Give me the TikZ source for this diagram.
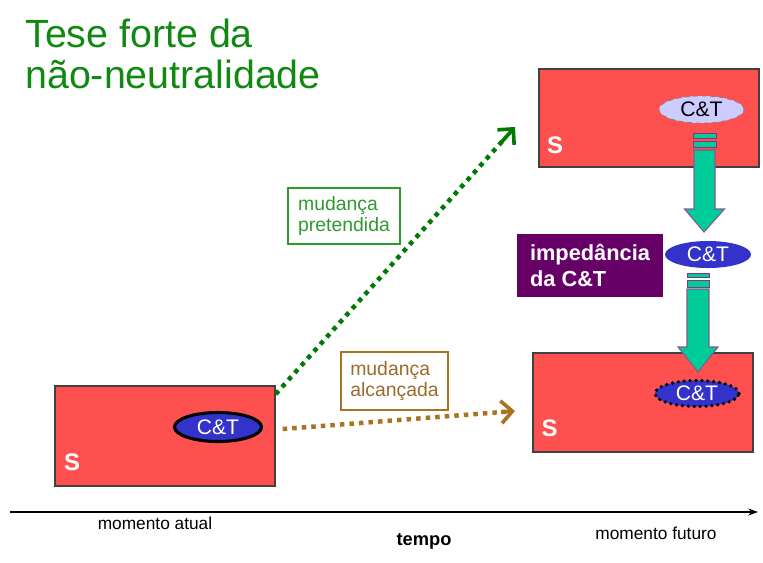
\documentclass[tikz,border=0pt]{standalone}
\usepackage{fontspec}
\setmainfont{Liberation Sans}
\usetikzlibrary{arrows.meta,shapes.geometric,calc}

\definecolor{sysred}{HTML}{FF5050}
\definecolor{ctlight}{HTML}{CCCCFF}
\definecolor{ctblue}{HTML}{3333CC}
\definecolor{impurple}{HTML}{660066}
\definecolor{flowteal}{HTML}{00CC99}
\definecolor{flowedge}{HTML}{805C90}
\definecolor{titlegreen}{HTML}{118811}
\definecolor{boxgreen}{HTML}{2E9A2E}
\definecolor{arrgreen}{HTML}{007A00}
\definecolor{brownline}{HTML}{A87420}
\definecolor{browntext}{HTML}{9C6A2C}

\tikzset{
  sysbox/.style={draw=black!75,fill=sysred,line width=0.9pt,minimum width=5.5cm,minimum height=2.45cm,inner sep=0pt},
  sysletter/.style={text=white,font=\bfseries\fontsize{17}{17}\selectfont,inner sep=0pt},
  ctnode/.style={ellipse,inner sep=0pt,font=\fontsize{15}{15}\selectfont},
  labelbox/.style={draw,line width=1pt,align=left,inner xsep=6.5pt,anchor=center,font=\fontsize{13.8}{15.6}\selectfont},
  dotline/.style={line width=3.2pt,dash pattern=on 3.2pt off 3.6pt},
  barb/.style={solid,line width=2.6pt,-{Straight Barb[length=8pt,width=16pt,line width=2.6pt]}},
  stripe/.style={fill=flowteal,draw=impurple!80,line width=0.7pt},
  flow/.style={fill=flowteal,draw=flowedge,line width=0.8pt}
}

\begin{document}
\begin{tikzpicture}[x=0.025cm,y=-0.025cm]
\useasboundingbox (0,0) rectangle (763,562);

% title
\node[anchor=base west,inner sep=0pt,align=left,text=titlegreen,font=\fontsize{28}{28.5}\selectfont] (title) at (25,88) {Tese forte da\\não-neutralidade};

% systems
\node[sysbox] (fut) at (649,118) {};
\node[sysbox,minimum height=2.475cm] (real) at (643,402.5) {};
\node[sysbox,minimum height=2.5cm] (now) at (165,436) {};
\node[sysletter] (futS) at (555,145) {S};
\node[sysletter] (realS) at (549.5,428) {S};
\node[sysletter] (nowS) at (72,462) {S};

% C&T
\node[ctnode,fill=ctlight,draw=gray,dashed,line width=0.5pt,minimum width=2.125cm,minimum height=0.675cm] (futct) at (701.5,109.5) {C\&T};
\node[ctnode,fill=ctblue,text=white,minimum width=2.15cm,minimum height=0.675cm] (impct) at (708,254.5) {C\&T};
\node[ctnode,fill=ctblue,text=white,draw=black,line width=2.6pt,line cap=round,dash pattern=on 0pt off 4.2pt,minimum width=2.1cm,minimum height=0.65cm] (realct) at (697,393.5) {C\&T};
\node[ctnode,fill=ctblue,text=white,draw=black,line width=2.2pt,minimum width=2.175cm,minimum height=0.725cm] (nowct) at (218,427) {C\&T};

% impedance
\node[fill=impurple,text=white,align=left,inner xsep=7pt,minimum width=3.65cm,minimum height=1.575cm,font=\bfseries\fontsize{15.5}{19}\selectfont] (imped) at (590,265.5) {impedância\\da C\&T};

% flows through the C&T
\draw[stripe] (693,133) rectangle (716,138);
\draw[stripe] (693,141) rectangle (716,147);
\coordinate (fa) at (704.5,150);
\coordinate (fb) at (704.5,209);
\draw[flow] ($(fa)+(-10.5,0)$) -- ($(fa)+(10.5,0)$) -- ($(fb)+(10.5,0)$) -- ($(fb)+(20,0)$)
  -- (704,232) -- ($(fb)+(-20,0)$) -- ($(fb)+(-10.5,0)$) -- cycle;

\draw[stripe] (687,273) rectangle (709,277);
\draw[stripe] (687,280) rectangle (709,287);
\coordinate (ga) at (698,289);
\coordinate (gb) at (698,347);
\draw[flow] ($(ga)+(-11,0)$) -- ($(ga)+(11,0)$) -- ($(gb)+(11,0)$) -- ($(gb)+(20,0)$)
  -- (698,372) -- ($(gb)+(-20,0)$) -- ($(gb)+(-11,0)$) -- cycle;

% changes
\coordinate (pretStart) at ([yshift=-0.22cm]now.north east);
\coordinate (pretTip) at (515,127);
\coordinate (alcStart) at ($(now.east)+(7,-7)$);
\coordinate (alcTip) at (515,411);
\draw[dotline,arrgreen] (pretStart) -- ($(pretStart)!0.96!(pretTip)$);
\draw[barb,arrgreen] ($(pretStart)!0.94!(pretTip)$) -- (pretTip);
\draw[dotline,brownline] (alcStart) -- ($(alcStart)!0.96!(alcTip)$);
\draw[barb,brownline] ($(alcStart)!0.94!(alcTip)$) -- (alcTip);
\node[labelbox,draw=boxgreen,text=boxgreen,minimum width=2.8cm,minimum height=1.4cm] (pret) at (344,216) {mudança\\pretendida};
\node[labelbox,draw=brownline,text=browntext,minimum width=2.675cm,minimum height=1.45cm] (alc) at (394.5,381) {mudança\\alcançada};

% time axis
\coordinate (t0) at (10,512);
\coordinate (t1) at (758,512);
\draw[-{Stealth[length=7pt,width=5pt]},line width=0.8pt] (t0) -- (t1);
\node[font=\fontsize{12.3}{12.3}\selectfont] (atual) at (155,523) {momento atual};
\node[font=\bfseries\fontsize{13}{13}\selectfont] (tempo) at (424,541) {tempo};
\node[font=\fontsize{12.3}{12.3}\selectfont] (futuro) at (656,533) {momento futuro};

\end{tikzpicture}
\end{document}
